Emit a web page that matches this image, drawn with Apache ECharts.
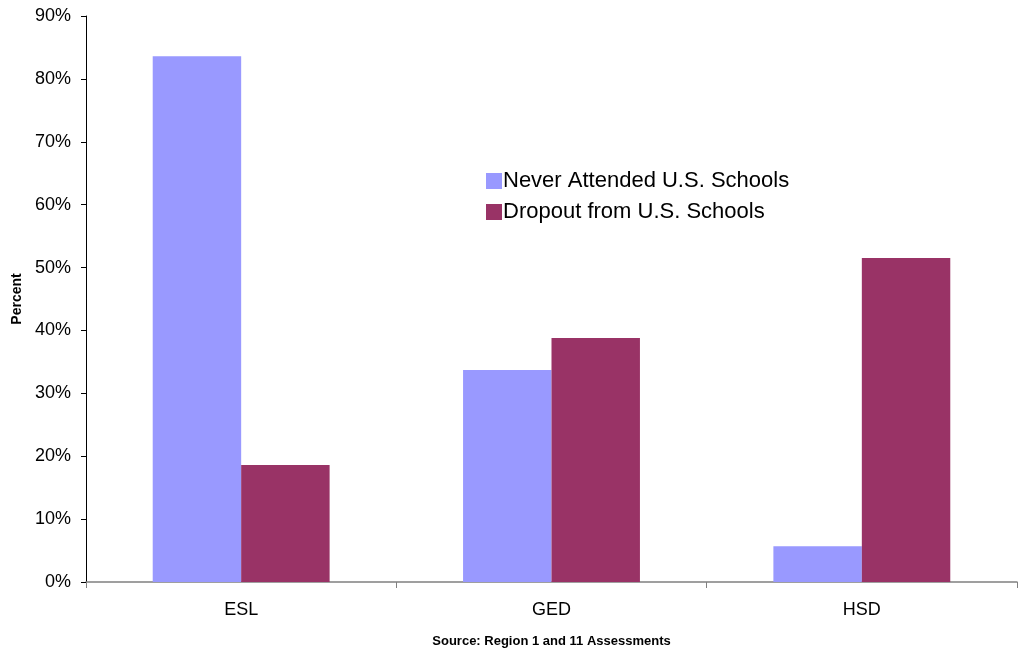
<!DOCTYPE html>
<html><head><meta charset="utf-8">
<script src="https://cdn.jsdelivr.net/npm/echarts@6/dist/echarts.min.js"></script>
<style>html,body{margin:0;padding:0;background:#fff}#c{width:1024px;height:650px}</style>
</head><body><div id="c"></div>
<script>
const categories = ['ESL', 'GED', 'HSD'];
const neverAttended = [83.6, 33.7, 5.7];
const dropout = [18.6, 38.8, 51.5];
const seriesNames = ['Never Attended U.S. Schools', 'Dropout from U.S. Schools'];

const chart = echarts.init(document.getElementById('c'), null, {renderer: 'canvas'});
const font = 'Liberation Sans, Arial, sans-serif';
chart.setOption({
  animation: false,
  backgroundColor: '#fff',
  grid: {left: 86, right: 7, top: 16, bottom: 68, containLabel: false, outerBoundsMode: 'none'},
  legend: {
    orient: 'vertical', left: 481, top: 165, itemWidth: 16, itemHeight: 16, itemGap: 9,
    icon: 'rect',
    textStyle: {fontFamily: font, fontSize: 22, color: '#000', padding: [0,0,0,-4]},
    data: seriesNames
  },
  xAxis: {
    type: 'category', data: categories,
    name: 'Source: Region 1 and 11 Assessments', nameLocation: 'middle', nameGap: 53,
    nameTextStyle: {fontFamily: font, fontSize: 13, fontWeight: 'bold', color: '#000'},
    axisLine: {lineStyle: {color: '#808080', width: 1.5}},
    axisTick: {show: true, length: 6, lineStyle: {color: '#808080'}},
    axisLabel: {fontFamily: font, fontSize: 18, color: '#000', margin: 19}
  },
  yAxis: {
    type: 'value', min: 0, max: 90, interval: 10,
    name: 'Percent', nameLocation: 'middle', nameGap: 62, nameRotate: 90,
    nameTextStyle: {fontFamily: font, fontSize: 14, fontWeight: 'bold', color: '#000'},
    axisLine: {show: true, lineStyle: {color: '#000', width: 1}},
    axisTick: {show: true, length: 5, lineStyle: {color: '#000'}},
    splitLine: {show: false},
    axisLabel: {fontFamily: font, fontSize: 18, color: '#000', margin: 15, formatter: '{value}%'}
  },
  series: [
    {name: seriesNames[0], type: 'bar', data: neverAttended, barGap: '0%', barCategoryGap: '43%', itemStyle: {color: '#9999FF'}},
    {name: seriesNames[1], type: 'bar', data: dropout, itemStyle: {color: '#993366'}}
  ]
});
</script></body></html>
